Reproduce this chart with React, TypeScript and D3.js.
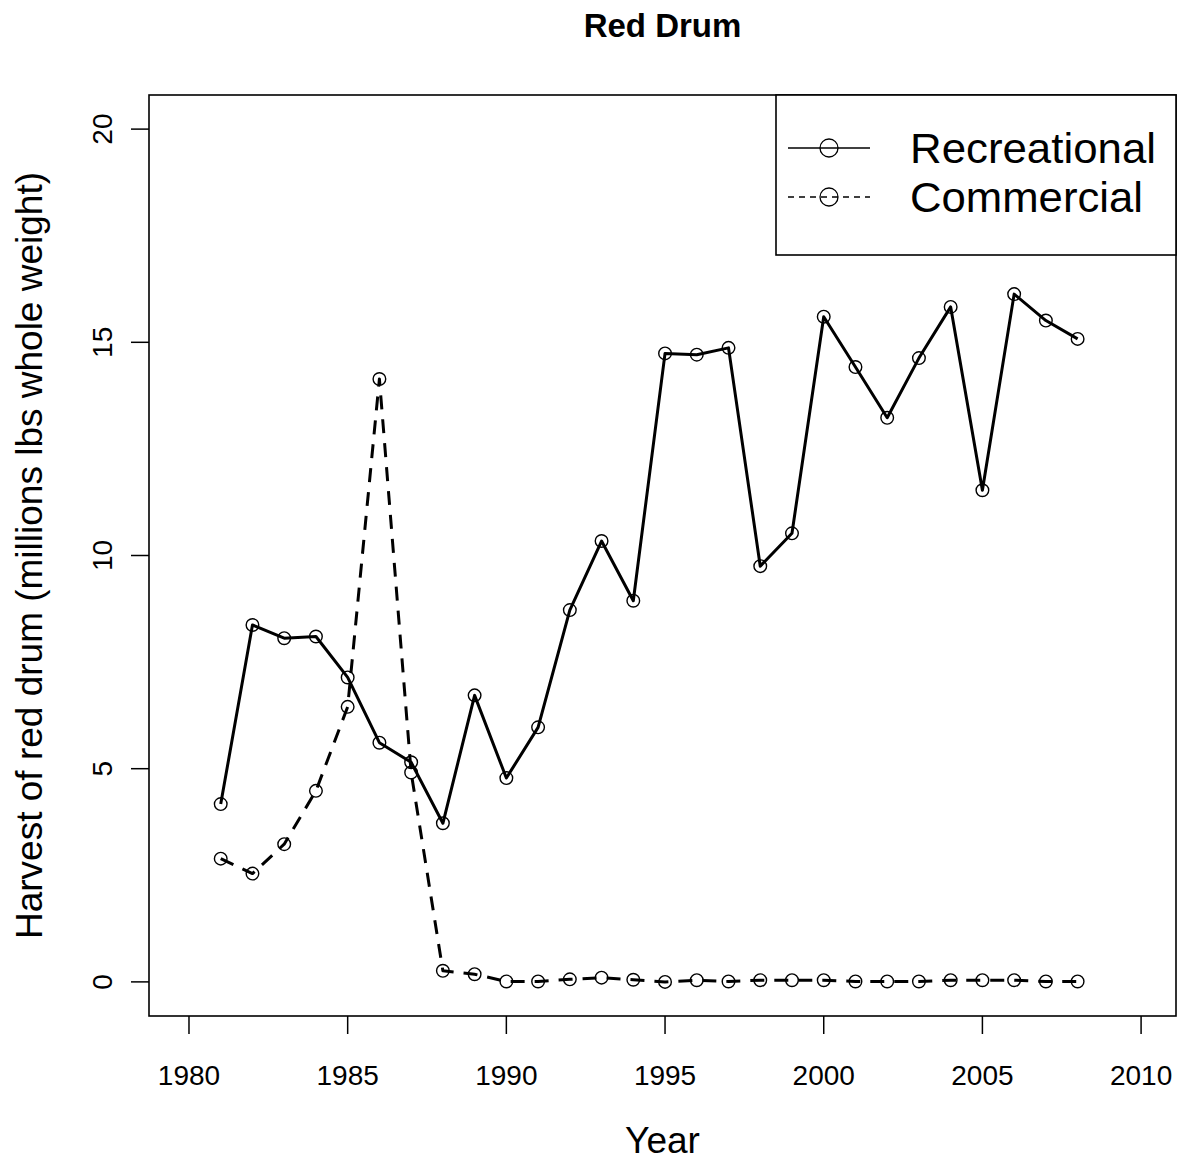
import { useEffect } from "react"
import * as d3 from "d3"

// data
const years = [
  1981, 1982, 1983, 1984, 1985, 1986, 1987, 1988, 1989, 1990, 1991, 1992, 1993, 1994,
  1995, 1996, 1997, 1998, 1999, 2000, 2001, 2002, 2003, 2004, 2005, 2006, 2007, 2008,
]
const recreational = [
  4.17, 8.37, 8.06, 8.1, 7.14, 5.61, 5.15, 3.72, 6.72, 4.78, 5.97, 8.72, 10.34, 8.94,
  14.74, 14.71, 14.87, 9.75, 10.52, 15.6, 14.42, 13.23, 14.63, 15.83, 11.53, 16.13, 15.51, 15.08,
]
const commercial = [
  2.89, 2.54, 3.23, 4.48, 6.45, 14.14, 4.91, 0.26, 0.18, 0.01, 0.01, 0.06, 0.1, 0.05,
  0.0, 0.04, 0.01, 0.04, 0.04, 0.04, 0.01, 0.01, 0.01, 0.04, 0.04, 0.04, 0.01, 0.01,
]
const xTicks = [1980, 1985, 1990, 1995, 2000, 2005, 2010]
const yTicks = [0, 5, 10, 15, 20]
const seriesNames = ["Recreational", "Commercial"]

const W = 1178
const H = 1160
const left = 149
const right = 1176
const top = 95
const bottom = 1016
const font = "'Liberation Sans', Arial, sans-serif"

export default function App() {
  useEffect(() => {
    document.body.style.margin = "0"
  }, [])

  // R pads the limits by about 4%
  const x = d3.scaleLinear().domain([1978.74, 2011.1]).range([left, right])
  const y = d3.scaleLinear().domain([-0.8, 20.8]).range([bottom, top])

  const line = d3
    .line<number>()
    .x((_, i) => x(years[i]))
    .y((d) => y(d))

  const series = [
    { name: seriesNames[0], values: recreational, dash: undefined },
    { name: seriesNames[1], values: commercial, dash: "14 10" },
  ]

  const tickLen = 18

  return (
    <svg width={W} height={H} style={{ display: "block", background: "#fff" }} fontFamily={font}>
      <rect width={W} height={H} fill="#fff" />

      {/* title */}
      <text x={(left + right) / 2} y={37} textAnchor="middle" fontSize={33} fontWeight="bold">
        Red Drum
      </text>

      {/* lines */}
      {series.map((s) => (
        <path
          key={s.name}
          d={line(s.values) || ""}
          fill="none"
          stroke="#000"
          strokeWidth={3}
          strokeDasharray={s.dash}
          strokeLinejoin="round"
        />
      ))}
      {series.map((s) =>
        s.values.map((v, i) => (
          <circle
            key={s.name + i}
            cx={x(years[i])}
            cy={y(v)}
            r={6.3}
            fill="none"
            stroke="#000"
            strokeWidth={1.4}
          />
        ))
      )}

      {/* box */}
      <rect x={left} y={top} width={right - left} height={bottom - top} fill="none" stroke="#000" strokeWidth={1.6} />

      {/* x axis */}
      {xTicks.map((t) => (
        <g key={t}>
          <line x1={x(t)} x2={x(t)} y1={bottom} y2={bottom + tickLen} stroke="#000" strokeWidth={1.5} />
          <text x={x(t)} y={1085} textAnchor="middle" fontSize={28}>
            {t}
          </text>
        </g>
      ))}
      <text x={(left + right) / 2} y={1153} textAnchor="middle" fontSize={37}>
        Year
      </text>

      {/* y axis */}
      {yTicks.map((t) => (
        <g key={t}>
          <line x1={left - tickLen} x2={left} y1={y(t)} y2={y(t)} stroke="#000" strokeWidth={1.5} />
          <text transform={`translate(112,${y(t)}) rotate(-90)`} textAnchor="middle" fontSize={28}>
            {t}
          </text>
        </g>
      ))}
      <text transform={`translate(42,${(top + bottom) / 2}) rotate(-90)`} textAnchor="middle" fontSize={37}>
        Harvest of red drum (millions lbs whole weight)
      </text>

      {/* legend */}
      <rect x={776} y={top} width={right - 776} height={255 - top} fill="#fff" stroke="#000" strokeWidth={1.6} />
      {series.map((s, i) => {
        const ly = 148 + i * 49
        return (
          <g key={s.name}>
            <line
              x1={788}
              x2={870}
              y1={ly}
              y2={ly}
              stroke="#000"
              strokeWidth={1.5}
              strokeDasharray={s.dash ? "6 5" : undefined}
            />
            <circle cx={829} cy={ly} r={9} fill="none" stroke="#000" strokeWidth={1.3} />
            <text
              x={910}
              y={ly + 15}
              fontSize={42}
              textLength={i === 0 ? 246 : 233}
              lengthAdjust="spacingAndGlyphs"
            >
              {s.name}
            </text>
          </g>
        )
      })}
    </svg>
  )
}
